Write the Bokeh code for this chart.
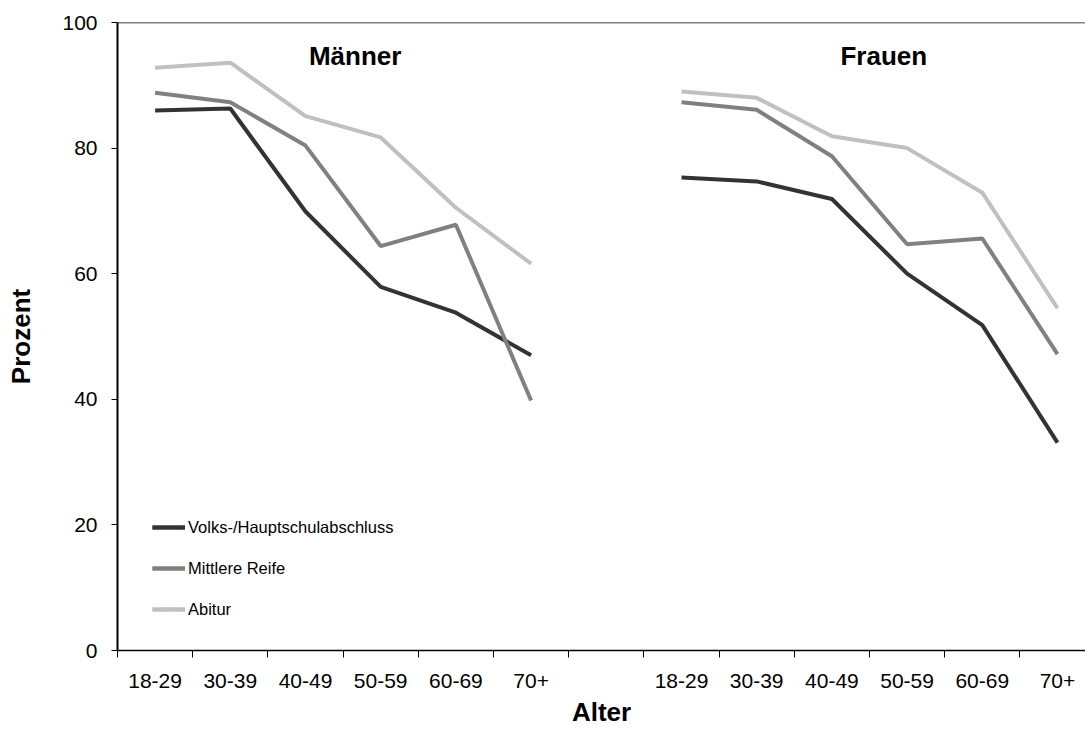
from bokeh.plotting import figure
from bokeh.models import (FixedTicker, CustomJSTickFormatter, Legend, LegendItem,
                          Span, Label)
from bokeh.embed import file_html
from bokeh.resources import INLINE

# ---- data ----
ages = ["18-29", "30-39", "40-49", "50-59", "60-69", "70+"]
groups = ["Männer", "Frauen"]
series_names = ["Volks-/Hauptschulabschluss", "Mittlere Reife", "Abitur"]

volks_m = [86.0, 86.3, 69.9, 57.9, 53.8, 47.0]
mittel_m = [88.8, 87.3, 80.4, 64.4, 67.8, 39.8]
abitur_m = [92.8, 93.6, 85.1, 81.7, 70.5, 61.6]

volks_f = [75.3, 74.7, 71.9, 60.0, 51.8, 33.1]
mittel_f = [87.3, 86.1, 78.7, 64.7, 65.6, 47.2]
abitur_f = [89.0, 88.0, 81.9, 80.0, 72.9, 54.5]

y_ticks = [0, 20, 40, 60, 80, 100]

colors = ["#333333", "#808080", "#c0c0c0"]
FONT = "Liberation Sans"

n = len(ages)
gap = 1
x_m = [i + 0.5 for i in range(n)]
x_f = [i + n + gap + 0.5 for i in range(n)]
n_slots = 2 * n + gap
cat_px = 75.2

W, H = 1085, 729
left, top, bottom = 117, 22, 79
frame_w = W - left
x_end = frame_w / cat_px

p = figure(width=W, height=H, output_backend="svg", toolbar_location=None,
           x_range=(0, x_end), y_range=(0, 100),
           min_border_left=left, min_border_top=top, min_border_right=0,
           min_border_bottom=bottom)
p.grid.visible = False
p.outline_line_color = None
p.background_fill_color = "white"
p.border_fill_color = "white"

# x axis: labels at category centres, minor ticks at boundaries
labels = ages + [""] * gap + ages
xax = p.xaxis[0]
xax.ticker = FixedTicker(ticks=x_m + x_f,
                         minor_ticks=[float(i) for i in range(n_slots + 1)])
xax.formatter = CustomJSTickFormatter(args=dict(labels=labels),
                                      code="return labels[Math.round(tick - 0.5)] || '';")
xax.major_tick_out = 0
xax.major_tick_in = 0
xax.minor_tick_out = 7
xax.minor_tick_in = 0
xax.minor_tick_line_color = "black"
xax.minor_tick_line_width = 1
xax.axis_line_color = "black"
xax.axis_line_width = 1.5
xax.major_label_text_font = FONT
xax.major_label_text_font_size = "21px"
xax.major_label_text_color = "black"
xax.major_label_standoff = 16
xax.axis_label = "Alter"
xax.axis_label_text_font = FONT
xax.axis_label_text_font_size = "26px"
xax.axis_label_text_font_style = "bold"
xax.axis_label_text_color = "black"
xax.axis_label_standoff = 6

yax = p.yaxis[0]
yax.ticker = FixedTicker(ticks=y_ticks)
yax.minor_tick_line_color = None
yax.major_tick_out = 6
yax.major_tick_in = 0
yax.major_tick_line_color = "black"
yax.axis_line_color = "black"
yax.axis_line_width = 2
yax.major_label_text_font = FONT
yax.major_label_text_font_size = "21px"
yax.major_label_text_color = "black"
yax.major_label_standoff = 14
yax.axis_label = "Prozent"
yax.axis_label_text_font = FONT
yax.axis_label_text_font_size = "26px"
yax.axis_label_text_font_style = "bold"
yax.axis_label_text_color = "black"
yax.axis_label_standoff = 23

# top border line
p.add_layout(Span(location=100, dimension="width", line_color="black", line_width=1.5))

# lines
items = []
data_m = [volks_m, mittel_m, abitur_m]
data_f = [volks_f, mittel_f, abitur_f]
for name, c, ym, yf in zip(series_names, colors, data_m, data_f):
    r1 = p.line(x_m, ym, line_color=c, line_width=4)
    r2 = p.line(x_f, yf, line_color=c, line_width=4)
    items.append(LegendItem(label=name, renderers=[r1, r2]))

legend = Legend(items=items, location=(35, 31), padding=0, margin=0,
                border_line_color=None, background_fill_alpha=0,
                glyph_width=33, glyph_height=20, label_height=20,
                label_standoff=3, spacing=21,
                label_text_font=FONT, label_text_font_size="16.5px",
                label_text_color="black")
p.add_layout(legend, "center")

# group titles
for g, xt in zip(groups, [3.16, 10.19]):
    p.add_layout(Label(x=xt, y=94.7, text=g, text_align="center",
                       text_baseline="middle", text_font=FONT,
                       text_font_size="26px", text_font_style="bold",
                       text_color="black"))

open("out.html", "w").write(file_html(p, INLINE))
